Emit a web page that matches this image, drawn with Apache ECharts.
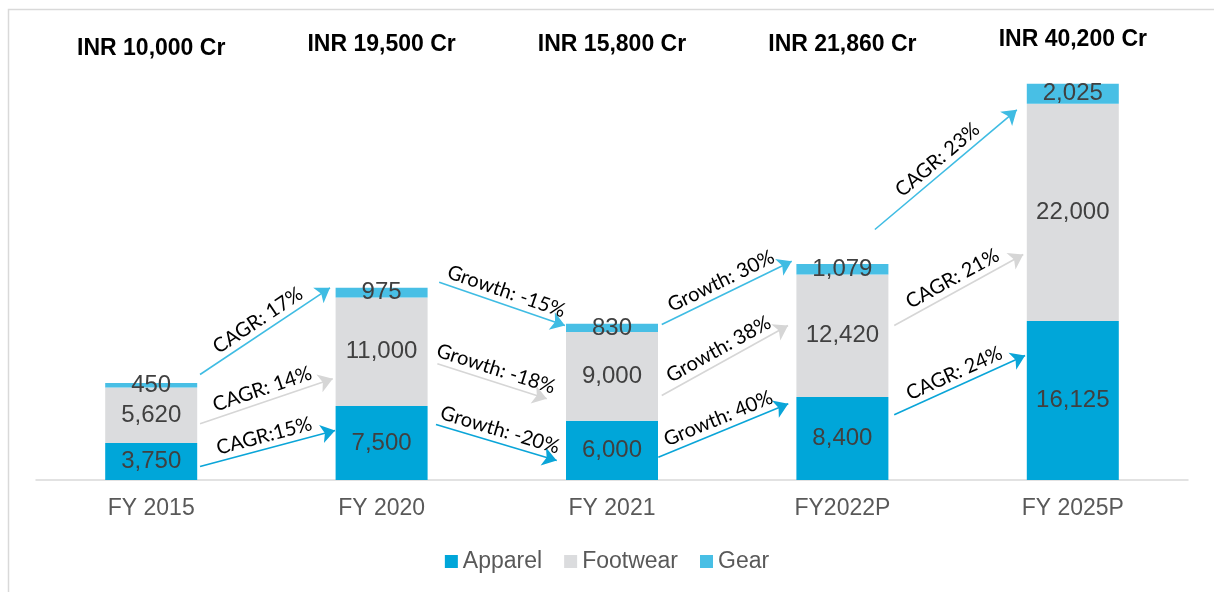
<!DOCTYPE html>
<html>
<head>
<meta charset="utf-8">
<script src="https://cdn.jsdelivr.net/npm/echarts@6/dist/echarts.min.js"></script>
<style>
html,body{margin:0;padding:0;background:#fff;}
#chart{width:1214px;height:592px;}
</style>
</head>
<body>
<div id="chart"></div>
<script>
// ---- data ----
const categories = ['FY 2015', 'FY 2020', 'FY 2021', 'FY2022P', 'FY 2025P'];
const totalLabels = ['INR 10,000 Cr', 'INR 19,500 Cr', 'INR 15,800 Cr', 'INR 21,860 Cr', 'INR 40,200 Cr'];
const apparel = [3750, 7500, 6000, 8400, 16125];
const footwear = [5620, 11000, 9000, 12420, 22000];
const gear = [450, 975, 830, 1079, 2025];
// growth arrows (x in category index units, y in value units)
const arrowLabels = ['CAGR: 17%', 'CAGR: 14%', 'CAGR:15%', 'Growth: -15%', 'Growth: -18%', 'Growth: -20%',
  'Growth: 30%', 'Growth: 38%', 'Growth: 40%', 'CAGR: 23%', 'CAGR: 21%', 'CAGR: 24%'];
const arrowSeries = ['Gear', 'Footwear', 'Apparel', 'Gear', 'Footwear', 'Apparel',
  'Gear', 'Footwear', 'Apparel', 'Gear', 'Footwear', 'Apparel'];
const arrowFrom = [[0.212, 10692], [0.212, 5696], [0.212, 1368], [1.250, 20047], [1.242, 11777], [1.236, 5625],
  [2.216, 15760], [2.216, 8564], [2.201, 2311], [3.141, 25388], [3.225, 15658], [3.225, 6608]];
const arrowTo = [[0.776, 19479], [0.788, 10256], [0.798, 5017], [1.796, 15658], [1.717, 8230], [1.760, 1976],
  [2.780, 22175], [2.764, 15658], [2.765, 7723], [3.757, 37519], [3.785, 22854], [3.793, 12618]];

const colors = { Apparel: '#00A6D9', Footwear: '#DBDCDE', Gear: '#48BFE5' };
const arrowColors = { Apparel: '#0AA5D8', Footwear: '#D6D6D6', Gear: '#3FBCE3' };
const FONT = 'Liberation Sans, Arial, sans-serif';

const fmt = v => v.toLocaleString('en-US');

const barLabel = {
  show: true, position: 'inside', color: '#404040',
  fontFamily: FONT, fontSize: 24,
  formatter: p => fmt(p.value)
};

function barSeries(name, data) {
  return {
    name, type: 'bar', stack: 'total', data, barWidth: 92,
    itemStyle: { color: colors[name] }, label: barLabel,
    emphasis: { disabled: true }
  };
}

const arrowData = arrowLabels.map((lab, i) => ({
  name: lab,
  coords: [arrowFrom[i], arrowTo[i]],
  lineStyle: { color: arrowColors[arrowSeries[i]] }
}));

const topStyle = { color: '#000', fontSize: 23, fontWeight: 'bold', fontFamily: FONT };

const chart = echarts.init(document.getElementById('chart'), null, { renderer: 'canvas' });
chart.setOption({
  animation: false,
  backgroundColor: '#fff',
  graphic: [{
    type: 'rect', left: 6, top: 7, silent: true,
    shape: { width: 1400, height: 800 },
    style: { fill: 'none', stroke: '#D9D9D9', lineWidth: 1.5 }
  }],
  grid: { left: 36, right: 26, top: 36, bottom: 112 },
  legend: {
    bottom: 14, left: 'center', icon: 'rect', itemWidth: 13, itemHeight: 13, itemGap: 22,
    data: ['Apparel', 'Footwear', 'Gear'],
    textStyle: { color: '#595959', fontSize: 23, fontFamily: FONT }
  },
  xAxis: [{
    type: 'category', data: categories, position: 'bottom',
    axisLine: { lineStyle: { color: '#D9D9D9', width: 1.5 } },
    axisTick: { show: false },
    axisLabel: { color: '#595959', fontSize: 23, margin: 17, fontFamily: FONT }
  }, {
    type: 'category', data: totalLabels, position: 'top', offset: -26,
    axisLine: { show: false }, axisTick: { show: false },
    axisLabel: {
      margin: 2,
      formatter: (v, i) => (i === 0 ? '{a|' : i === 4 ? '{c|' : '{b|') + v + '}',
      rich: {
        a: Object.assign({ lineHeight: 23 }, topStyle),
        b: Object.assign({ lineHeight: 31 }, topStyle),
        c: Object.assign({ lineHeight: 41 }, topStyle)
      }
    }
  }, {
    type: 'value', min: -0.5, max: 4.5, show: false
  }],
  yAxis: {
    type: 'value', min: 0, max: 45000, show: false, splitLine: { show: false }
  },
  series: [
    barSeries('Apparel', apparel),
    barSeries('Footwear', footwear),
    barSeries('Gear', gear),
    {
      type: 'lines', coordinateSystem: 'cartesian2d', xAxisIndex: 2, yAxisIndex: 0,
      symbol: ['none', 'arrow'], symbolSize: 14,
      lineStyle: { width: 1.6, opacity: 1, curveness: 0 },
      label: {
        show: true, position: 'middle', formatter: '{b}', distance: 3,
        color: '#000', fontSize: 20, fontFamily: 'Lato, Open Sans, sans-serif'
      },
      emphasis: { disabled: true },
      data: arrowData, z: 5
    }
  ]
});
</script>
</body>
</html>
